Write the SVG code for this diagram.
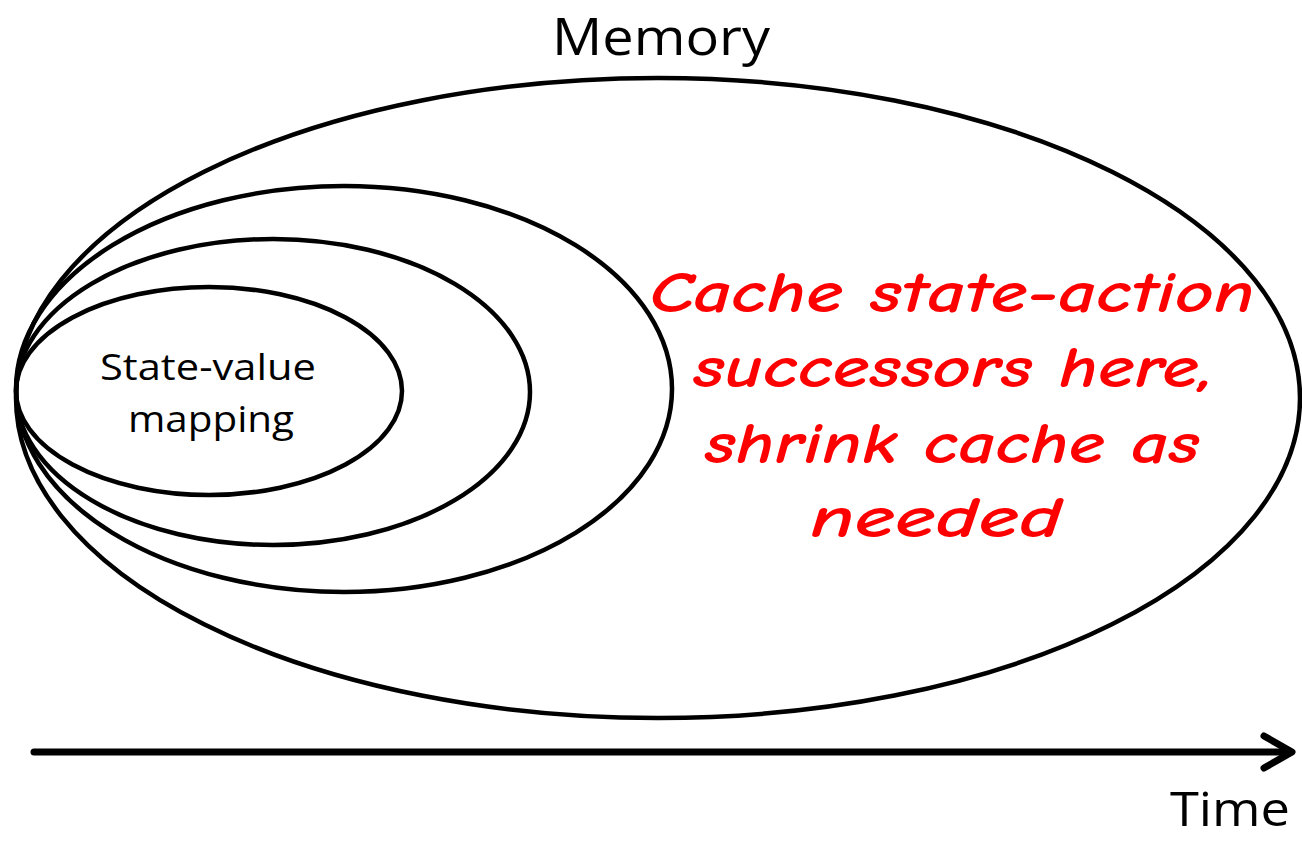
<svg xmlns="http://www.w3.org/2000/svg" width="1302" height="841" viewBox="0 0 1302 841">
  <style>
    .ring { fill: none; stroke: #000; stroke-width: 4.5; }
    .lbl { font-family: "Open Sans", "Liberation Sans", sans-serif; fill: #000; text-anchor: middle; }
    .note { font-family: "Comic Sans MS", "Comic Neue", "Lato", sans-serif; font-style: italic; font-weight: bold; font-size: 58px; fill: #ff0000; text-anchor: middle; }
    .axis { fill: none; stroke: #000; stroke-width: 7; stroke-linecap: round; stroke-linejoin: round; }
  </style>
  <rect width="1302" height="841" fill="#fff"/>

  <!-- nested memory regions, all touching at the left -->
  <g id="memory-total">
    <ellipse class="ring" cx="658" cy="398" rx="642" ry="320"/>
  </g>
  <g id="memory-stage3">
    <ellipse class="ring" cx="344" cy="389" rx="328" ry="203"/>
  </g>
  <g id="memory-stage2">
    <ellipse class="ring" cx="273" cy="392" rx="257" ry="153"/>
  </g>
  <g id="state-value">
    <ellipse class="ring" cx="209" cy="391" rx="193" ry="104"/>
    <text class="lbl" x="208" y="380" font-size="36" textLength="216" lengthAdjust="spacingAndGlyphs">State-value</text>
    <text class="lbl" x="211" y="432" font-size="36" textLength="166" lengthAdjust="spacingAndGlyphs">mapping</text>
  </g>

  <g id="title">
    <text class="lbl" x="661" y="55" font-size="52" textLength="218" lengthAdjust="spacingAndGlyphs">Memory</text>
  </g>

  <g id="cache-note">
    <text class="note" x="952" y="312" textLength="605" lengthAdjust="spacingAndGlyphs">Cache state-action</text>
    <text class="note" x="953" y="387" textLength="520" lengthAdjust="spacingAndGlyphs">successors here,</text>
    <text class="note" x="952" y="463" textLength="495" lengthAdjust="spacingAndGlyphs">shrink cache as</text>
    <text class="note" x="936" y="537" textLength="252" lengthAdjust="spacingAndGlyphs">needed</text>
  </g>

  <!-- time axis -->
  <g id="connectors">
    <line class="axis" x1="34" y1="752" x2="1290" y2="752"/>
    <polyline class="axis" points="1264,736 1292,752 1264,768"/>
  </g>
  <g id="time-label">
    <text class="lbl" x="1230" y="826" font-size="48" textLength="120" lengthAdjust="spacingAndGlyphs">Time</text>
  </g>
</svg>
